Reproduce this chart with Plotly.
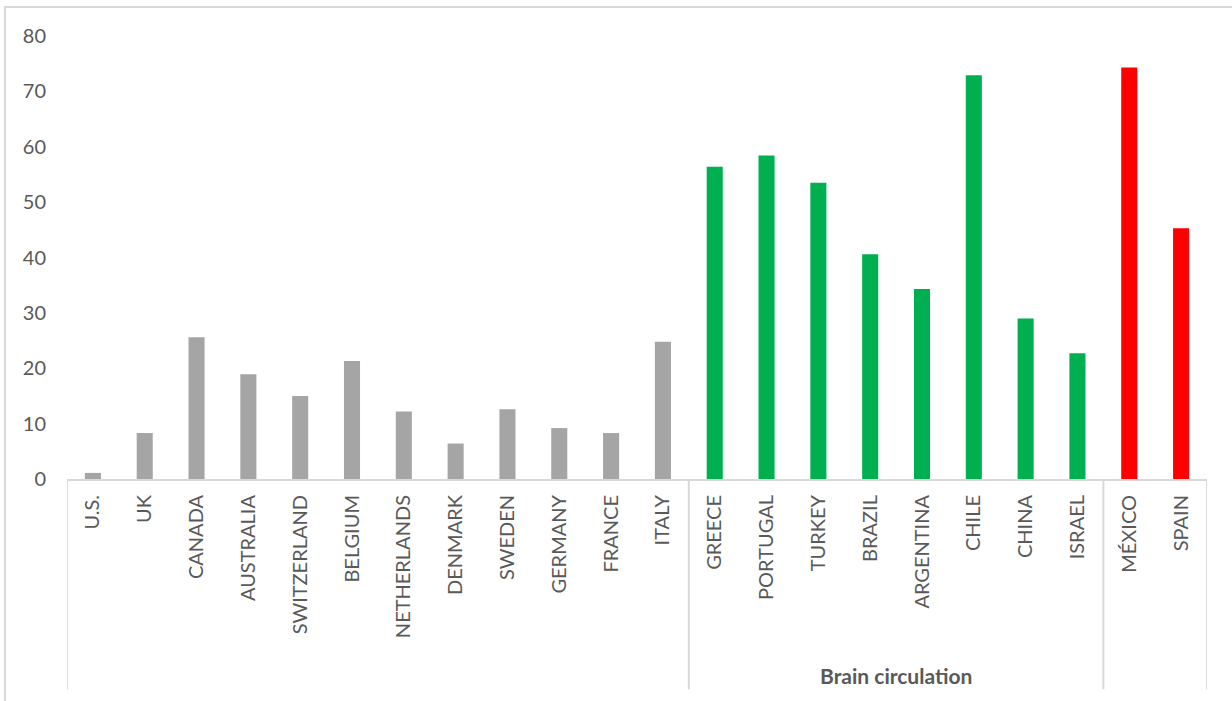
import plotly.graph_objects as go

countries = ["U.S.", "UK", "CANADA", "AUSTRALIA", "SWITZERLAND", "BELGIUM", "NETHERLANDS",
             "DENMARK", "SWEDEN", "GERMANY", "FRANCE", "ITALY",
             "GREECE", "PORTUGAL", "TURKEY", "BRAZIL", "ARGENTINA", "CHILE", "CHINA", "ISRAEL",
             "MÉXICO", "SPAIN"]
values = [1.1, 8.3, 25.6, 18.9, 15.0, 21.3, 12.2, 6.4, 12.6, 9.2, 8.3, 24.8,
          56.4, 58.4, 53.5, 40.6, 34.3, 72.9, 29.0, 22.7,
          74.3, 45.3]
groups = [""] * 12 + ["Brain circulation"] * 8 + [""] * 2
group_colors = {0: "#A5A5A5", 1: "#00B050", 2: "#FF0000"}
group_index = [0] * 12 + [1] * 8 + [2] * 2
y_ticks = [0, 10, 20, 30, 40, 50, 60, 70, 80]

W, H = 1232, 701
L, R, T, B = 67, 25, 36, 221.5
pw, ph = W - L - R, H - T - B

def px_x(p):
    return (p - L) / pw

def px_y(p):
    return (H - B - p) / ph

colors = [group_colors[g] for g in group_index]

fig = go.Figure()
fig.add_trace(go.Bar(x=countries, y=values, marker=dict(color=colors, line=dict(width=0)),
                     width=0.31, showlegend=False))

shapes = []
# outer chart border
shapes.append(dict(type="rect", xref="paper", yref="paper",
                   x0=px_x(5), x1=px_x(1260), y0=px_y(740), y1=px_y(7),
                   line=dict(color="#D9D9D9", width=2), layer="below"))
# group separators (at boundaries) down to bottom
bottom = px_y(690)
bounds = [-0.5]
for i in range(1, len(groups)):
    if group_index[i] != group_index[i - 1]:
        bounds.append(i - 0.5)
bounds.append(len(groups) - 0.5)
for b in bounds:
    shapes.append(dict(type="line", xref="x", yref="paper", x0=b, x1=b, y0=0, y1=bottom,
                       line=dict(color="#D9D9D9", width=2)))
fig.update_layout(shapes=shapes)

# group labels
for gi in range(len(bounds) - 1):
    name = groups[int(bounds[gi] + 0.5)]
    if name:
        fig.add_annotation(x=(bounds[gi] + bounds[gi + 1]) / 2, xref="x", y=px_y(676), yref="paper",
                           yanchor="middle", xanchor="center",
                           text="<b>" + name + "</b>", showarrow=False,
                           font=dict(family="Lato", size=21, color="#595959"))

fig.update_layout(
    width=W, height=H,
    margin=dict(l=L, r=R, t=T, b=B),
    paper_bgcolor="white", plot_bgcolor="white",
    bargap=0.69,
    font=dict(family="Lato", color="#595959"),
    xaxis=dict(type="category", tickangle=-90, showline=True, linecolor="#D9D9D9", linewidth=2,
               showgrid=False, ticks="", tickfont=dict(family="Lato", size=20, color="#595959"),
               ticklabelstandoff=6, range=[-0.5, len(countries) - 0.5]),
    yaxis=dict(range=[0, 80], tickvals=y_ticks, showgrid=False, zeroline=False, showline=False,
               tickfont=dict(family="Lato", size=20, color="#595959"), ticklabelstandoff=20),
)

fig.write_html("out.html")
